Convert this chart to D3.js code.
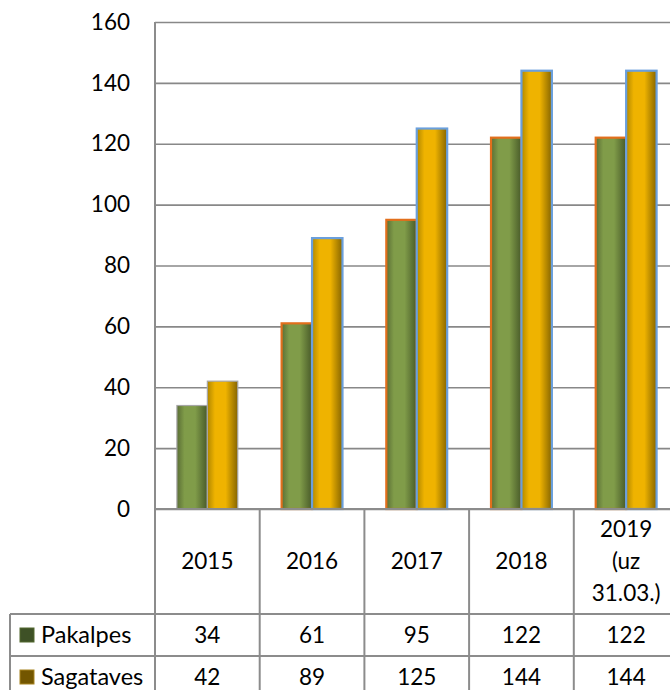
<!doctype html>
<html>
  <head>
    <meta charset="utf-8">
    <title>Pakalpes un Sagataves</title>
    <script src="https://d3js.org/d3.v7.min.js"></script>
    <style>
      body { margin: 0; background: #fff; }
      text { font-family: Lato, "Open Sans", sans-serif; fill: #000; }
    </style>
  </head>
  <body>
  <script>
    var years = ["2015", "2016", "2017", "2018", "2019 (uz 31.03.)"];
    var seriesNames = ["Pakalpes", "Sagataves"];
    var pakalpes = [34, 61, 95, 122, 122];
    var sagataves = [42, 89, 125, 144, 144];
    var yTicks = [0, 20, 40, 60, 80, 100, 120, 140, 160];

    var width = 670, height = 690;
    var plotLeft = 155, plotTop = 22, base = 509, step = 104.7;
    var headH = 105, rowH = 42;

    var svg = d3.select("body").append("svg")
        .attr("width", width).attr("height", height);

    var defs = svg.append("defs");
    function grad(id, edge, mid, dark){
      var g = defs.append("linearGradient").attr("id", id)
          .attr("x1", 0).attr("x2", 1).attr("y1", 0).attr("y2", 0);
      g.append("stop").attr("offset", "0%").attr("stop-color", edge);
      g.append("stop").attr("offset", "25%").attr("stop-color", mid);
      g.append("stop").attr("offset", "60%").attr("stop-color", mid);
      g.append("stop").attr("offset", "100%").attr("stop-color", dark);
    }
    grad("gGreen", "#5a6e35", "#809c49", "#485a29");
    grad("gYellow", "#b08700", "#efb300", "#866500");

    var x = d3.scaleBand()
        .domain(years)
        .range([plotLeft, plotLeft + step * years.length])
        .padding(0);

    var x1 = d3.scaleBand()
        .domain(seriesNames)
        .range([0, x.bandwidth()])
        .paddingInner(0)
        .paddingOuter(0.72);

    var y = d3.scaleLinear()
        .domain([0, 160])
        .range([base, plotTop]);

    // y axis with gridlines
    var yAxis = d3.axisLeft(y)
        .tickValues(yTicks)
        .tickSize(-(width - plotLeft))
        .tickPadding(25);

    svg.append("g")
        .attr("class", "y axis")
        .attr("transform", "translate(" + plotLeft + ",0)")
        .call(yAxis)
        .call(function(g){
          g.select(".domain").remove();
          g.selectAll(".tick line").attr("stroke", "#888").attr("stroke-width", 1.6);
          g.selectAll(".tick text").attr("font-size", 22.5).attr("fill", "#000")
            .attr("font-family", "Lato, 'Open Sans', sans-serif");
        });

    // left frame line
    svg.append("line")
        .attr("x1", plotLeft).attr("x2", plotLeft)
        .attr("y1", plotTop).attr("y2", height)
        .attr("stroke", "#8c8c8c").attr("stroke-width", 2);

    // bars
    var data = years.map(function(d, i){
      return { year: d, i: i, values: [pakalpes[i], sagataves[i]] };
    });

    var groups = svg.selectAll(".grp")
      .data(data)
      .enter().append("g")
        .attr("class", "grp")
        .attr("transform", function(d){ return "translate(" + x(d.year) + ",0)"; });

    groups.selectAll("rect")
      .data(function(d){
        return d.values.map(function(v, k){ return { name: seriesNames[k], value: v, i: d.i, k: k }; });
      })
      .enter().append("rect")
        .attr("x", function(d){ return x1(d.name); })
        .attr("y", function(d){ return y(d.value); })
        .attr("width", x1.bandwidth())
        .attr("height", function(d){ return base - y(d.value); })
        .attr("fill", function(d){ return d.k == 0 ? "url(#gGreen)" : "url(#gYellow)"; })
        .attr("stroke", function(d){
          if (d.i == 0) return "#a6a6a6";
          return d.k == 0 ? "#e26f1c" : "#6a9fdc";
        })
        .attr("stroke-width", function(d){ return d.i == 0 ? 1.2 : 2.2; });

    // baseline
    svg.append("line")
        .attr("x1", plotLeft).attr("x2", width)
        .attr("y1", base).attr("y2", base)
        .attr("stroke", "#8c8c8c").attr("stroke-width", 2);

    // data table
    var table = svg.append("g").attr("class", "table");
    var lineColor = "#8c8c8c";

    x.domain().forEach(function(d){
      table.append("line")
          .attr("x1", x(d)).attr("x2", x(d))
          .attr("y1", base).attr("y2", height)
          .attr("stroke", lineColor).attr("stroke-width", 2);
    });
    table.append("line")
        .attr("x1", x.range()[1]).attr("x2", x.range()[1])
        .attr("y1", base).attr("y2", height)
        .attr("stroke", lineColor).attr("stroke-width", 2);

    [base + headH, base + headH + rowH].forEach(function(yy){
      table.append("line")
          .attr("x1", 10).attr("x2", width)
          .attr("y1", yy).attr("y2", yy)
          .attr("stroke", lineColor).attr("stroke-width", 2);
    });
    table.append("line")
        .attr("x1", 10).attr("x2", 10)
        .attr("y1", base + headH).attr("y2", height)
        .attr("stroke", lineColor).attr("stroke-width", 2);

    // header labels
    years.forEach(function(d){
      var lines = d.split(" ");
      var cx = x(d) + x.bandwidth() / 2;
      var cy = base + headH / 2;
      var t = table.append("text")
          .attr("text-anchor", "middle")
          .attr("font-size", 22.5);
      lines.forEach(function(l, j){
        t.append("tspan")
            .attr("x", cx)
            .attr("y", cy + (j - (lines.length - 1) / 2) * 32)
            .attr("dy", "0.35em")
            .text(l);
      });
    });

    // rows
    var keyFill = ["#3e5126", "#735600"];
    var keyStroke = ["#52682f", "#a88420"];
    [pakalpes, sagataves].forEach(function(vals, r){
      var cy = base + headH + rowH * r + rowH / 2;
      table.append("rect")
          .attr("x", 20).attr("y", cy - 7)
          .attr("width", 14).attr("height", 14)
          .attr("fill", keyFill[r])
          .attr("stroke", keyStroke[r]).attr("stroke-width", 1);
      table.append("text")
          .attr("x", 41).attr("y", cy).attr("dy", "0.35em")
          .attr("font-size", 23.5)
          .text(seriesNames[r]);
      vals.forEach(function(v, i){
        table.append("text")
            .attr("x", x(years[i]) + x.bandwidth() / 2)
            .attr("y", cy).attr("dy", "0.35em")
            .attr("text-anchor", "middle")
            .attr("font-size", 22.5)
            .text(v);
      });
    });
  </script>
  </body>
</html>
